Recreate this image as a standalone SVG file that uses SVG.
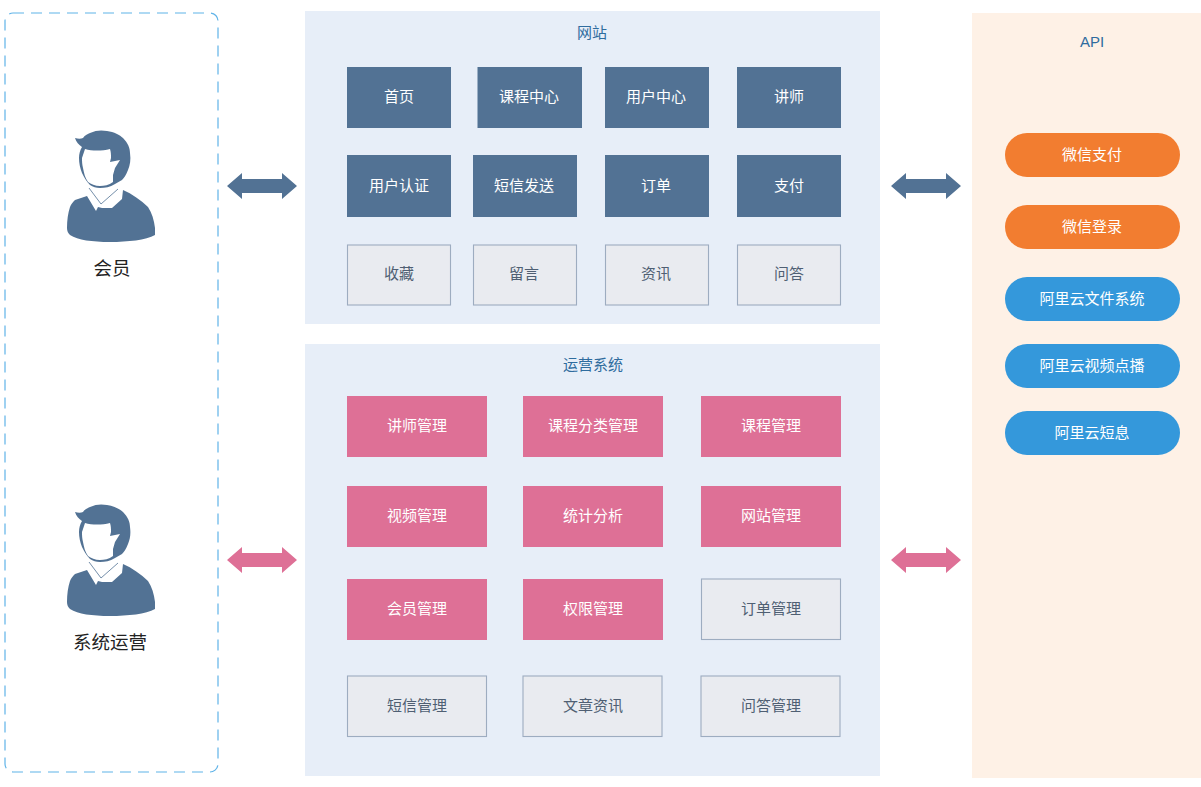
<svg xmlns="http://www.w3.org/2000/svg" width="1201" height="787" viewBox="0 0 1201 787">
<style>
text{font-family:"Liberation Sans","Noto Sans CJK SC",sans-serif;text-anchor:middle;dominant-baseline:central}
.title{font-size:15px;fill:#2f6c9e}
.t{font-size:15px;fill:#fff}
.g{font-size:15px;fill:#4f5f73}
.actor{font-size:18.500px;fill:#222}
.b{fill:#527294}
.p{fill:#de7096}
.n{fill:#e9ebf0;stroke:#9dacc0;stroke-width:1.100}
.o{fill:#f27d30}
.c{fill:#3498db}
.panel{fill:#e7eef8}
</style>
<defs>
<g id="person">
<path fill="#527294" d="M75,138C78,139 81,139 83,138C85,135 88,134 90,133C96,130 102,130 107,131C114,132 120,135 123,138C128,143 130,148 130,153C131,160 130,165 128,170C126,175 124,178 122,180L115,184C110,187 105,188 100,188C96,188 93,187 90,185C86,181 84,177 82,173C80,168 79,163 79,158C79,154 80,150 82,147C79,145 76,142 75,138Z"/>
<path fill="#fff" d="M85,149C92,151 102,151 110,149C111,152 111,155 111,158L110,162L120,160L115,168L113,175L113,182C109,185 104,186 100,186C95,186 91,184 88,182C85,178 84,173 83,168C82,164 82,161 82,158C83,155 84,152 85,149Z"/>
<path fill="none" stroke="#527294" stroke-width="0.800" d="M89,188L101,204L118,189"/>
<path fill="#527294" d="M67,228C67,220 68,213 70,207C71,204 73,202 75,200L87,196L96,211L98,207L102,208L112,208L122,199L123,190C132,194 141,200 148,207C152,213 154,220 155,228L155,235C146,240 128,242 110,242C92,242 78,240 70,235C68,233 67,231 67,228Z"/>
</g>
<path id="arrow" d="M-35,0L-20,-13V-7H20V-13L35,0L20,13V7H-20V13Z"/>
</defs>

<rect id="actors-box" x="5" y="13" width="213" height="759" rx="8" fill="#fff" stroke="#5fb3e8" stroke-width="1.200" stroke-dasharray="11 7"/>

<g id="member"><use href="#person"/><text class="actor" x="112" y="268">会员</text></g>
<g id="operator"><use href="#person" y="374"/><text class="actor" x="110" y="642">系统运营</text></g>

<rect id="site-panel" class="panel" x="305" y="11" width="575" height="313"/>
<text class="title" x="592" y="32.500">网站</text>
<rect id="ops-panel" class="panel" x="305" y="344" width="575" height="432"/>
<text class="title" x="593" y="364.500">运营系统</text>
<rect id="api-panel" x="972" y="13" width="229" height="765" fill="#fef1e6"/>
<text class="title" x="1092" y="41.500">API</text>

<g id="connectors">
<use href="#arrow" class="b" x="262" y="186"/>
<use href="#arrow" class="b" x="926" y="186"/>
<use href="#arrow" class="p" x="262" y="560"/>
<use href="#arrow" class="p" x="926" y="560"/>
</g>

<g id="n1"><rect class="b" x="347" y="67" width="104" height="61"/><text class="t" x="399" y="96.500">首页</text></g>
<g id="n2"><rect class="b" x="477.500" y="67" width="104.500" height="61"/><text class="t" x="529" y="96.500">课程中心</text></g>
<g id="n3"><rect class="b" x="605" y="67" width="104" height="61"/><text class="t" x="656" y="96.500">用户中心</text></g>
<g id="n4"><rect class="b" x="737" y="67" width="104" height="61"/><text class="t" x="789" y="96.500">讲师</text></g>
<g id="n5"><rect class="b" x="347" y="155" width="104" height="62"/><text class="t" x="399" y="185.500">用户认证</text></g>
<g id="n6"><rect class="b" x="473" y="155" width="104" height="62"/><text class="t" x="524" y="185.500">短信发送</text></g>
<g id="n7"><rect class="b" x="605" y="155" width="104" height="62"/><text class="t" x="656" y="185.500">订单</text></g>
<g id="n8"><rect class="b" x="737" y="155" width="104" height="62"/><text class="t" x="789" y="185.500">支付</text></g>
<g id="n9"><rect class="n" x="347.500" y="245" width="103" height="60"/><text class="g" x="399" y="273.500">收藏</text></g>
<g id="n10"><rect class="n" x="473.500" y="245" width="103" height="60"/><text class="g" x="524" y="273.500">留言</text></g>
<g id="n11"><rect class="n" x="605.500" y="245" width="103" height="60"/><text class="g" x="656" y="273.500">资讯</text></g>
<g id="n12"><rect class="n" x="737.500" y="245" width="103" height="60"/><text class="g" x="789" y="273.500">问答</text></g>

<g id="m1"><rect class="p" x="347" y="396" width="140" height="61"/><text class="t" x="417" y="425.500">讲师管理</text></g>
<g id="m2"><rect class="p" x="523" y="396" width="140" height="61"/><text class="t" x="593" y="425.500">课程分类管理</text></g>
<g id="m3"><rect class="p" x="701" y="396" width="140" height="61"/><text class="t" x="771" y="425.500">课程管理</text></g>
<g id="m4"><rect class="p" x="347" y="486" width="140" height="61"/><text class="t" x="417" y="515.500">视频管理</text></g>
<g id="m5"><rect class="p" x="523" y="486" width="140" height="61"/><text class="t" x="593" y="515.500">统计分析</text></g>
<g id="m6"><rect class="p" x="701" y="486" width="140" height="61"/><text class="t" x="771" y="515.500">网站管理</text></g>
<g id="m7"><rect class="p" x="347" y="579" width="140" height="61"/><text class="t" x="417" y="608.500">会员管理</text></g>
<g id="m8"><rect class="p" x="523" y="579" width="140" height="61"/><text class="t" x="593" y="608.500">权限管理</text></g>
<g id="m9"><rect class="n" x="701.500" y="579" width="139" height="60.500"/><text class="g" x="771" y="608.500">订单管理</text></g>
<g id="m10"><rect class="n" x="347.500" y="676" width="139" height="60.500"/><text class="g" x="417" y="705.500">短信管理</text></g>
<g id="m11"><rect class="n" x="523" y="676" width="139" height="60.500"/><text class="g" x="593" y="705.500">文章资讯</text></g>
<g id="m12"><rect class="n" x="701" y="676" width="139" height="60.500"/><text class="g" x="771" y="705.500">问答管理</text></g>

<g id="a1"><rect class="o" x="1005" y="133" width="175" height="44" rx="22"/><text class="t" x="1092" y="154.500">微信支付</text></g>
<g id="a2"><rect class="o" x="1005" y="205" width="175" height="44" rx="22"/><text class="t" x="1092" y="226.500">微信登录</text></g>
<g id="a3"><rect class="c" x="1005" y="277" width="175" height="44" rx="22"/><text class="t" x="1092" y="298">阿里云文件系统</text></g>
<g id="a4"><rect class="c" x="1005" y="344" width="175" height="44" rx="22"/><text class="t" x="1092" y="365.500">阿里云视频点播</text></g>
<g id="a5"><rect class="c" x="1005" y="411" width="175" height="44" rx="22"/><text class="t" x="1092" y="432.500">阿里云短息</text></g>
</svg>
